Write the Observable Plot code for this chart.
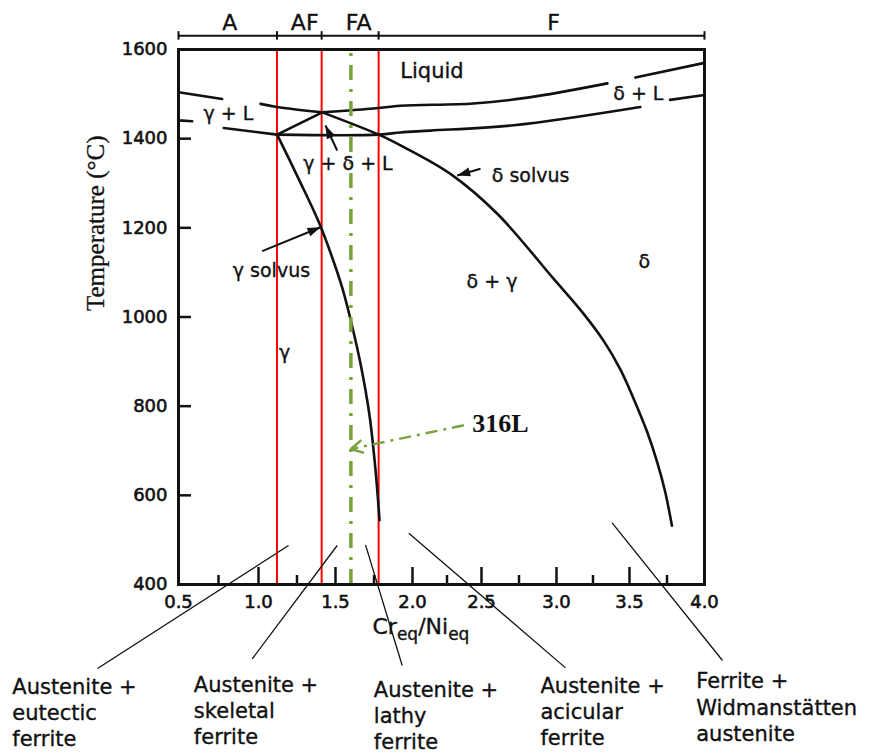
<!DOCTYPE html>
<html>
<head>
<meta charset="utf-8">
<title>Solidification modes of stainless steel vs Cr_eq/Ni_eq</title>
<script src="https://cdn.jsdelivr.net/npm/d3@7"></script>
<script src="https://cdn.jsdelivr.net/npm/@observablehq/plot@0.6"></script>
<style>
  html, body { margin: 0; padding: 0; background: #fff; }
  #chart svg { display: block; }
</style>
</head>
<body>
<div id="chart"></div>
<script>
// Cr_eq/Ni_eq axis: labelled ticks and the minor ticks between them
const xTicks = [0.5, 1.0, 1.5, 2.0, 2.5, 3.0, 3.5, 4.0];
const xMinorTicks = [0.75, 1.25, 1.75, 2.25, 2.75, 3.25, 3.75];
// Temperature axis (°C)
const yTicks = [400, 600, 800, 1000, 1200, 1400, 1600];

// Solidification modes along the top
const modeNames = ["A", "AF", "FA", "F"];
const modeEdges = [0.5, 1.12, 1.41, 1.78, 4.0];
const modeBoundaries = [1.12, 1.41, 1.78];

// Alloy marked on the diagram
const alloyName = "316L";
const alloyRatio = 1.60;

// Phase boundaries, each point is [Cr_eq/Ni_eq, temperature °C]
const liquidusGammaA = [[0.50, 1504], [0.773, 1489]];
const liquidusGammaB = [[1.013, 1478], [1.12, 1471], [1.414, 1459]];
const liquidusDelta = [[1.414, 1459], [1.727, 1467], [1.922, 1474], [2.442, 1479], [2.807, 1492], [3.349, 1524]];
const liquidusDeltaEnd = [[3.539, 1537], [4.0, 1570]];
const solidusGammaA = [[0.50, 1441], [0.586, 1439]];
const solidusGammaB = [[0.783, 1424], [1.121, 1409]];
const solidusDelta = [[1.121, 1409], [1.781, 1409], [1.922, 1414], [2.13, 1418], [2.715, 1430], [3.572, 1471]];
const solidusDeltaEnd = [[3.77, 1487], [4.0, 1498]];
const threePhaseLeg = [[1.121, 1409], [1.414, 1459]];
const deltaSolvus = [[1.414, 1459], [1.781, 1409], [1.922, 1385], [2.275, 1321], [2.607, 1231], [2.98, 1086],
  [3.164, 1016], [3.322, 947], [3.438, 882], [3.526, 818], [3.618, 742], [3.684, 675], [3.737, 609], [3.783, 532]];
const gammaSolvus = [[1.121, 1409], [1.266, 1306], [1.390, 1214], [1.474, 1138], [1.545, 1064], [1.607, 981],
  [1.662, 896], [1.721, 779], [1.760, 656], [1.786, 544]];

// Phase-field names
const phaseNames = ["γ + L", "δ + L", "γ + δ + L", "δ solvus", "γ solvus", "δ + γ", "δ", "γ"];
const liquidName = "Liquid";

// Room-temperature microstructures
const microstructures = [
  "Austenite +\neutectic\nferrite",
  "Austenite +\nskeletal\nferrite",
  "Austenite +\nlathy\nferrite",
  "Austenite +\nacicular\nferrite",
  "Ferrite +\nWidmanstätten\naustenite"
];

// ---- tables for the marks ----
const boundaries = {liquidusGammaA, liquidusGammaB, liquidusDelta, liquidusDeltaEnd, solidusGammaA, solidusGammaB,
  solidusDelta, solidusDeltaEnd, threePhaseLeg, deltaSolvus, gammaSolvus};
const boundaryRows = Object.entries(boundaries)
  .flatMap(([name, pts]) => pts.map(([ratio, temp]) => ({name, ratio, temp})));

const ink = "#111";
const alloyGreen = "#78a23c";

// Arrowheads drawn as SVG markers
function solidHead(color) {
  const m = d3.create("svg:marker")
    .attr("viewBox", "-16 -10 20 20").attr("markerWidth", 20).attr("markerHeight", 20)
    .attr("markerUnits", "userSpaceOnUse").attr("refX", 0).attr("refY", 0).attr("orient", "auto");
  m.append("path").attr("d", "M-13,-4.5L0,0L-13,4.5Z").attr("fill", color).attr("stroke", "none");
  return m.node();
}
function openHead(color) {
  const m = d3.create("svg:marker")
    .attr("viewBox", "-16 -10 20 20").attr("markerWidth", 20).attr("markerHeight", 20)
    .attr("markerUnits", "userSpaceOnUse").attr("refX", 0).attr("refY", 0).attr("orient", "auto");
  m.append("path").attr("d", "M-12,-6.5L0,0L-12,6.5").attr("fill", "none").attr("stroke", color)
    .attr("stroke-width", 2.5).attr("stroke-dasharray", "none").attr("stroke-linejoin", "miter");
  return m.node();
}

// slight extra weight for the sans-serif labels
const heavy = {fill: ink, stroke: ink, strokeWidth: 0.35};

const plot = Plot.plot({
  width: 875,
  height: 753,
  marginLeft: 178,
  marginRight: 171,
  marginTop: 49,
  marginBottom: 169,
  style: {fontFamily: "'DejaVu Sans', sans-serif", fontSize: "19px", color: ink, background: "#fff", overflow: "visible"},
  x: {type: "linear", domain: xTicks, range: [178, 258, 335, 412, 481, 556, 629, 704]},
  y: {domain: [400, 1600]},
  marks: [
    // mode boundaries
    Plot.ruleX(modeBoundaries, {y1: 400, y2: 1600, stroke: "#ff0000", strokeWidth: 2}),
    // phase boundaries
    Plot.line(boundaryRows, {x: "ratio", y: "temp", z: "name", stroke: ink, strokeWidth: 2.6, curve: "catmull-rom"}),
    // 316L composition
    Plot.ruleX([alloyRatio], {y1: 400, y2: 1600, stroke: alloyGreen, strokeWidth: 3.5, strokeDasharray: "15,9,3,9"}),
    Plot.link([{x1: 2.372, y1: 757, x2: alloyRatio, y2: 704}], {
      x1: "x1", y1: "y1", x2: "x2", y2: "y2", stroke: alloyGreen, strokeWidth: 2.5,
      strokeDasharray: "12,6,3,6", markerEnd: openHead
    }),
    Plot.text([alloyName], {x: 2.433, y: 742, textAnchor: "start", lineAnchor: "bottom",
      fontFamily: "'Liberation Serif', serif", fontWeight: "bold", fontSize: 26, fill: ink}),

    // frame and axes (ticks point inward)
    Plot.frame({stroke: ink, strokeWidth: 3}),
    Plot.axisX(xMinorTicks, {anchor: "bottom", tickSize: -9, strokeWidth: 2.5, fill: "none"}),
    Plot.axisX(xTicks, {anchor: "bottom", tickSize: -17, strokeWidth: 2.5, fill: "none"}),
    Plot.axisX(xTicks, {anchor: "bottom", tickSize: 0, tickPadding: 11, tickFormat: d3.format(".1f"),
      fontSize: 18, fill: ink, textStroke: ink, textStrokeWidth: 0.6, label: null}),
    Plot.axisY(yTicks, {anchor: "left", tickSize: -13, strokeWidth: 2.5, fill: "none"}),
    Plot.axisY(yTicks, {anchor: "left", tickSize: 0, tickPadding: 11, tickFormat: d3.format("d"),
      fontSize: 18, fill: ink, textStroke: ink, textStrokeWidth: 0.6, label: null}),
    Plot.text(["Temperature (°C)"], {frameAnchor: "left", rotate: -90, dx: -75, dy: -6, lineAnchor: "bottom",
      fontFamily: "'Liberation Serif', serif", fontSize: 25, fill: ink, stroke: ink, strokeWidth: 0.3}),
    Plot.text(["Cr_eq/Ni_eq"], {frameAnchor: "bottom", textAnchor: "start", lineAnchor: "bottom",
      dx: -69, dy: 49, fontSize: 22, ...heavy}),

    // solidification-mode bracket above the frame
    Plot.ruleY([1631], {x1: 0.5, x2: 4.0, stroke: ink, strokeWidth: 2}),
    Plot.ruleX(modeEdges, {y1: 1621, y2: 1640, stroke: ink, strokeWidth: 2}),
    Plot.text(modeNames, {x: [0.82, 1.30, 1.65, 2.98], y: 1643, lineAnchor: "bottom", fontSize: 22, ...heavy}),

    // phase fields
    Plot.text([liquidName], {x: 2.141, y: 1535, lineAnchor: "bottom", fontSize: 21, ...heavy}),
    Plot.text(phaseNames, {
      x: [0.8125, 3.559, 1.581, 2.827, 1.084, 2.57, 3.599, 1.169],
      y: [1441, 1486, 1329, 1302, 1089, 1064, 1109, 906],
      lineAnchor: "bottom", fontSize: 19, ...heavy
    }),
    Plot.link([
      {x1: 1.511, y1: 1373.5, x2: 1.435, y2: 1429.5},
      {x1: 1.024, y1: 1147.6, x2: 1.403, y2: 1201.4},
      {x1: 2.493, y1: 1332.4, x2: 2.324, y2: 1317.4}
    ], {x1: "x1", y1: "y1", x2: "x2", y2: "y2", stroke: ink, strokeWidth: 2, markerEnd: solidHead}),

    // microstructure captions and their leader lines
    Plot.link([
      {x1: 1.195, y1: 487.5, x2: -0.006, y2: 211.6},
      {x1: 1.511, y1: 487.5, x2: 0.961, y2: 233.3},
      {x1: 1.695, y1: 489, x2: 1.933, y2: 218.3},
      {x1: 1.976, y1: 515, x2: 3.062, y2: 213},
      {x1: 3.381, y1: 538.4, x2: 4.120, y2: 229.5}
    ], {x1: "x1", y1: "y1", x2: "x2", y2: "y2", stroke: ink, strokeWidth: 1.3}),
    Plot.text(microstructures, {
      x: [-0.539, 0.596, 1.749, 2.893, 3.945],
      y: [37, 43, 31, 39, 50],
      textAnchor: "start", lineAnchor: "bottom", lineHeight: 1.24, fontSize: 21, ...heavy
    })
  ]
});

// subscripts in the x-axis title
d3.select(plot).selectAll("text")
  .filter(function () { return this.textContent === "Cr_eq/Ni_eq"; })
  .each(function () {
    const t = d3.select(this).text(null);
    t.append("tspan").text("Cr");
    t.append("tspan").attr("dy", 6).attr("font-size", 17).text("eq");
    t.append("tspan").attr("dy", -6).text("/Ni");
    t.append("tspan").attr("dy", 6).attr("font-size", 17).text("eq");
  });

document.getElementById("chart").append(plot);
</script>
</body>
</html>
